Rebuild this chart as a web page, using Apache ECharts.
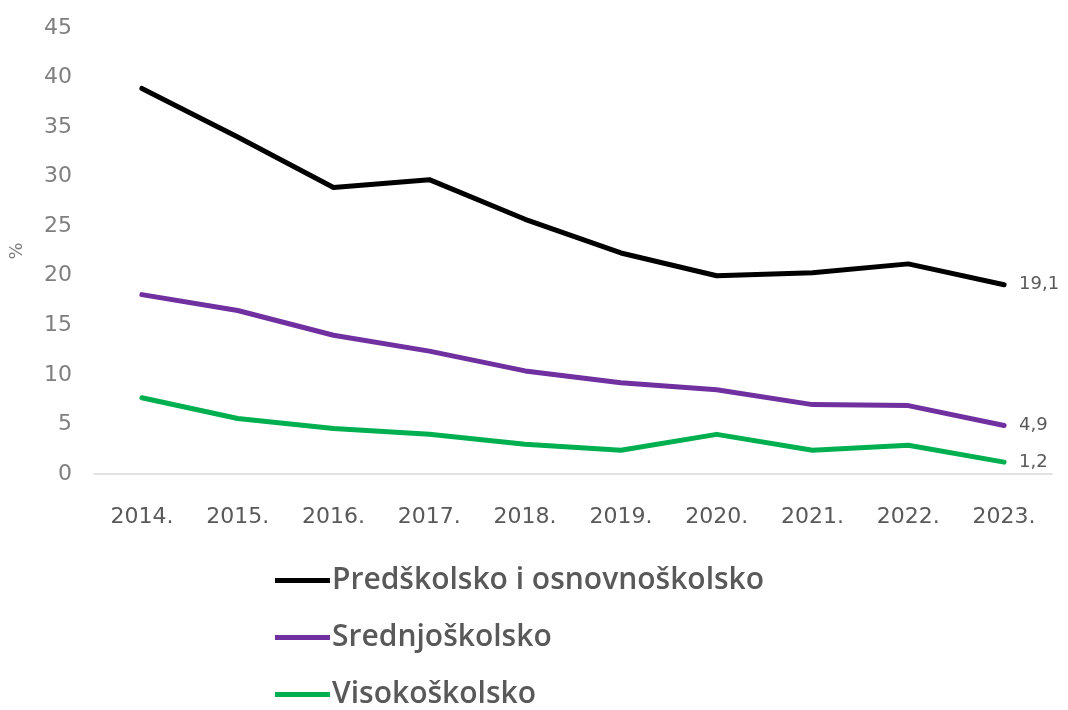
<!DOCTYPE html>
<html><head><meta charset="utf-8">
<script src="https://cdn.jsdelivr.net/npm/echarts@6/dist/echarts.min.js"></script>
<style>html,body{margin:0;padding:0;background:#fff}#c{width:1068px;height:710px}</style>
</head><body><div id="c"></div>
<script>
const categories = ['2014.','2015.','2016.','2017.','2018.','2019.','2020.','2021.','2022.','2023.'];
const predskolsko = [38.9, 34.0, 28.9, 29.7, 25.7, 22.3, 20.0, 20.3, 21.2, 19.1];
const srednjoskolsko = [18.1, 16.5, 14.0, 12.4, 10.4, 9.2, 8.5, 7.0, 6.9, 4.9];
const visokoskolsko = [7.7, 5.6, 4.6, 4.0, 3.0, 2.4, 4.0, 2.4, 2.9, 1.2];
const yTicks = [0, 5, 10, 15, 20, 25, 30, 35, 40, 45];
const seriesNames = ['Predškolsko i osnovnoškolsko','Srednjoškolsko','Visokoškolsko'];
const colors = ['#000000','#7030a0','#00b050'];
const axisFont = '"DejaVu Sans", sans-serif';
const legendFont = '"Open Sans", "Noto Sans", sans-serif';

function mk(name, data, color){
  return {
    name, type:'line', data, symbol:'none', smooth:false,
    lineStyle:{width:5,color, cap:'round', join:'round'},
    itemStyle:{color},
    endLabel:{show:true, distance:15, color:'#595959', fontSize:18, fontFamily:axisFont,
      formatter:p=> String(p.value).replace('.',',')}
  };
}
const chart = echarts.init(document.getElementById('c'));
chart.setOption({
  animation:false,
  grid:{left:92, right:16, top:28, bottom:236},
  legend:{
    orient:'vertical', left:275, top:565, height:145, padding:0, itemGap:26, itemWidth:55, itemHeight:5,
    icon:'rect', data:seriesNames,
    textStyle:{fontSize:30, lineHeight:31, color:'#595959', fontFamily:legendFont, fontWeight:600, padding:[0,0,0,-3]}
  },
  xAxis:{type:'category', data:categories, boundaryGap:true,
    axisLine:{lineStyle:{color:'#d9d9d9', width:1.5}}, axisTick:{show:false},
    axisLabel:{color:'#595959', fontSize:22, fontFamily:axisFont, margin:32}},
  yAxis:{type:'value', min:yTicks[0], max:yTicks[yTicks.length-1], interval:5, name:'%', nameLocation:'middle', nameGap:68,
    nameRotate:90, nameTextStyle:{color:'#7f7f7f', fontSize:18, fontFamily:axisFont},
    axisLine:{show:false}, axisTick:{show:false}, splitLine:{show:false},
    axisLabel:{color:'#7f7f7f', fontSize:22, fontFamily:axisFont, margin:22, align:'right'}},
  series:[mk(seriesNames[0], predskolsko, colors[0]), mk(seriesNames[1], srednjoskolsko, colors[1]), mk(seriesNames[2], visokoskolsko, colors[2])]
});
</script></body></html>
